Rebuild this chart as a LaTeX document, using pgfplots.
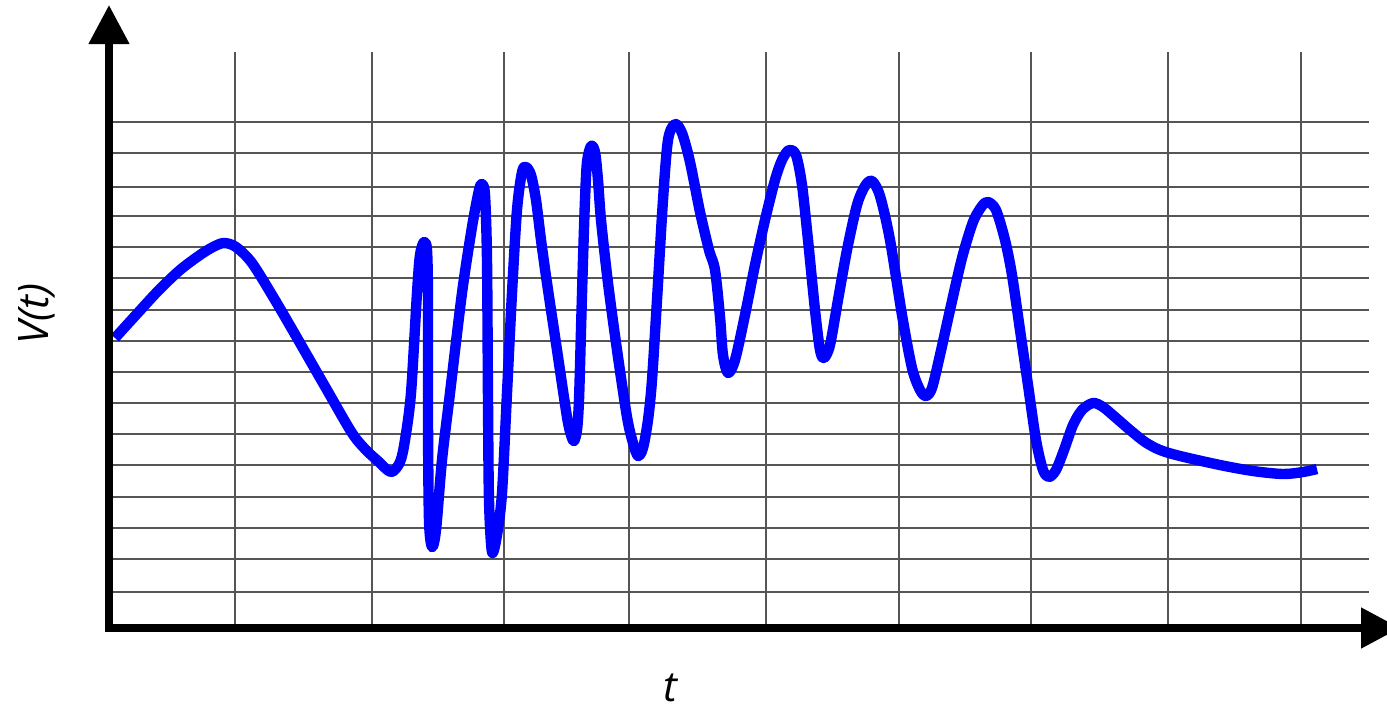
\documentclass[border=0pt]{standalone}
\usepackage{pgfplots}
\pgfplotsset{compat=1.18}
\usepackage{fontspec}
\newfontfamily\labfont{Open Sans}
\usetikzlibrary{arrows.meta}
\definecolor{gridc}{RGB}{85,85,85}
\definecolor{curve}{RGB}{0,0,255}
\begin{document}
\begin{tikzpicture}
\useasboundingbox (-53.5pt,-39.5pt) rectangle (640pt,314pt);
\clip (-53.5pt,-39.5pt) rectangle (640pt,314pt);
\begin{axis}[
  scale only axis,
  width=631pt, height=288pt,
  xmin=107, xmax=1369,
  ymin=52, ymax=628,
  y dir=reverse,
  clip=false,
  axis line style={draw=none},
  xtick={235,372,504,629,766,899,1031,1168,1301},
  ytick={122,153,187,216,247,278,310,341,372,403,434,465,497,528,559,592},
  xticklabels={}, yticklabels={},
  major tick length=0pt,
  grid=major,
  major grid style={gridc, line width=0.9pt},
]
\addplot[curve, line width=5.2pt, smooth, tension=0.5, line join=round, line cap=butt] coordinates {
(115,338) (135,316) (158,291) (180,270) (200,255) (213,247) (224,243) (236,247)
(252,263) (275,300) (300,343) (327,390) (352,433) (366,450) (378,461) (391,472)
(400,462) (405,440) (411,393) (417,293) (420,255) (424,242) (427,250) (428,300)
(428,420) (429,520) (432,547) (436,530) (442,460) (450,393) (462,293) (472,227)
(479,190) (482,184) (485,195) (487,260) (488,400) (489,500) (492,552) (497,535)
(502,493) (507,393) (512,293) (517,210) (522,172) (526,167) (531,175) (536,200)
(541,240) (547,283) (557,350) (567,417) (571,435) (574,441) (577,430) (579,400)
(581,330) (583,260) (585,200) (587,162) (591,146) (595,152) (598,180) (601,220)
(608,283) (617,350) (627,417) (633,443) (638,456) (643,448) (648,420)
(652,380) (657,300) (663,200) (668,140) (675,124) (682,133) (690,162) (700,212)
(709,250) (715,270) (720,317) (723,355) (728,373) (735,360) (745,315) (755,265)
(765,220) (775,180) (782,160) (789,150) (796,155) (802,185) (808,240) (815,310)
(820,350) (824,358) (830,345) (838,300) (847,250) (857,205) (865,186) (872,181)
(880,196) (890,240) (902,315) (912,368) (920,390) (926,396) (932,388) (940,355)
(950,310) (962,258) (973,222) (982,206) (988,202) (996,210) (1005,240) (1012,275)
(1020,330) (1028,385) (1036,440) (1043,470) (1049,477) (1056,470) (1064,450) (1073,425)
(1082,410) (1093,403) (1103,407) (1115,417) (1130,430) (1145,442) (1160,450) (1180,456)
(1220,465) (1253,471) (1283,474) (1303,472) (1317,469)
};
\draw[line width=4pt, -{Triangle[length=19.5pt, width=19.5pt]}] (axis cs:105,628) -- (axis cs:1400,628);
\draw[line width=3.8pt, -{Triangle[length=19.5pt, width=19.5pt]}] (axis cs:109,632) -- (axis cs:109,5);
\node[font=\labfont\itshape\fontsize{21}{25}\selectfont, rotate=90] at (axis cs:37,314) {V(t)};
\node[font=\labfont\itshape\fontsize{21}{25}\selectfont, inner sep=0pt] at (axis cs:670,688) {t};
\end{axis}
\end{tikzpicture}
\end{document}
